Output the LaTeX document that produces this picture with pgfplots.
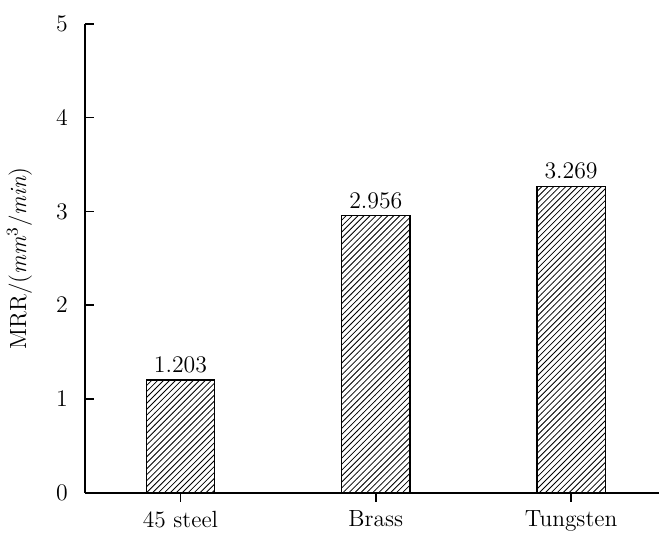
\documentclass[border=0pt]{standalone}
\usepackage{pgfplots}
\pgfplotsset{compat=1.18}
\usetikzlibrary{patterns}

\begin{document}
\begin{tikzpicture}
\begin{axis}[
  at={(0,0)}, anchor=south west,
  scale only axis,
  width=289.5pt, height=236.5pt,
  font=\fontsize{11.8}{14}\selectfont,
  ymin=0, ymax=5,
  ytick={0,1,2,3,4,5},
  xmin=-0.49, xmax=2.45,
  xtick=data,
  xticklabels={45 steel, Brass, Tungsten},
  axis x line*=bottom, axis y line*=left,
  axis line style={-, line width=1pt},
  tick align=inside,
  axis on top,
  major tick length=4.5pt,
  tick style={line width=0.8pt, black},
  yticklabel style={xshift=-5pt},
  xticklabel style={yshift=-1pt},
  ylabel={MRR/(\textit{mm}\textsuperscript{3}/\textit{min})},
  ylabel style={at={(axis description cs:-0.114,0.5)}, anchor=center},
  ybar, bar width=34.5pt,
  nodes near coords,
  nodes near coords style={font=\fontsize{11.8}{14}\selectfont, yshift=0pt,
    /pgf/number format/.cd, fixed, precision=3, fixed zerofill},
  clip=false,
]
\addplot[draw=black, line width=0.7pt, pattern=north east lines, pattern color=black]
  coordinates {(0,1.203) (1,2.956) (2,3.269)};
\end{axis}
\path[use as bounding box] (-40.5pt,-16pt) rectangle (289.5pt,248.5pt);
\end{tikzpicture}
\end{document}
